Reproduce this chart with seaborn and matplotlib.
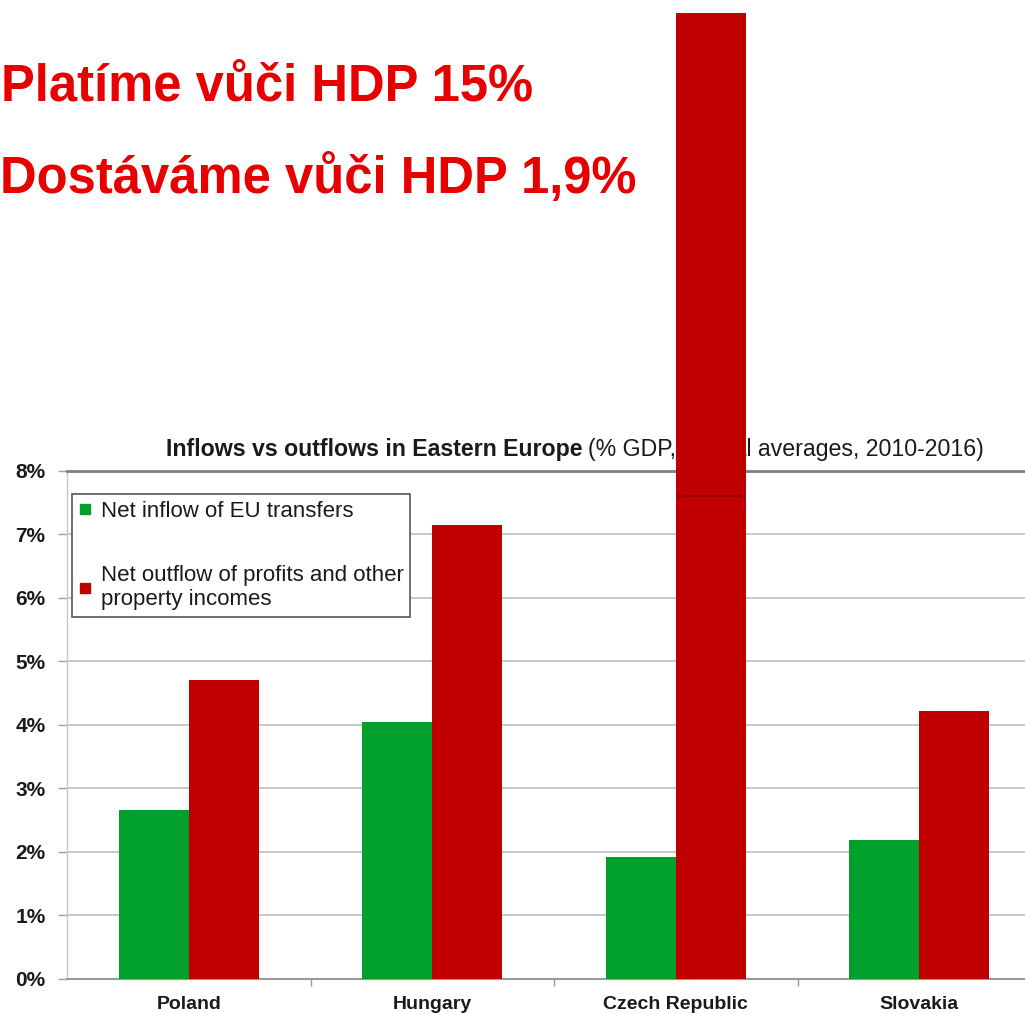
import numpy as np
import pandas as pd
import matplotlib
matplotlib.use("Agg")
import matplotlib.pyplot as plt
import seaborn as sns
from matplotlib.lines import Line2D

# ---------------- data ----------------
countries = ["Poland", "Hungary", "Czech Republic", "Slovakia"]
inflow_eu = [2.66, 4.04, 1.92, 2.19]
outflow_profits = [4.70, 7.15, 15.2, 4.21]
cz_outflow_original = 7.6
series_names = ["Net inflow of EU transfers",
                "Net outflow of profits and other\nproperty incomes"]
y_ticks = [0, 1, 2, 3, 4, 5, 6, 7, 8]
y_tick_labels = ["0%", "1%", "2%", "3%", "4%", "5%", "6%", "7%", "8%"]
headline_1 = "Platíme vůči HDP 15%"
headline_2 = "Dostáváme vůči HDP 1,9%"
title_bold = "Inflows vs outflows in Eastern Europe"
title_rest = "(% GDP, annual averages, 2010-2016)"

GREEN = "#00A02A"
RED = "#C00000"
HEAD_RED = "#E60000"

df = pd.DataFrame({
    "country": countries * 2,
    "series": [series_names[0]] * len(countries) + [series_names[1]] * len(countries),
    "value": inflow_eu + outflow_profits,
})

sns.set_style("white")
plt.rcParams["font.family"] = ["Liberation Sans", "DejaVu Sans"]

W, H = 1025, 1014
fig = plt.figure(figsize=(W / 100, H / 100), dpi=100)
ax = fig.add_axes([67 / W, 35 / H, 974 / W, 508.5 / H])

sns.barplot(data=df, x="country", y="value", hue="series",
            order=countries, hue_order=series_names,
            palette=[GREEN, RED], width=0.575, saturation=1,
            errorbar=None, legend=False, linewidth=0, ax=ax)

ax.set_xlim(-0.5, 3.5)
ax.set_ylim(0, 8)
for p in ax.patches:
    p.set_zorder(3)

# Czech outflow bar extends beyond the axes
cz_bar = ax.containers[1][2]
cz_bar.set_clip_on(False)
cz_bar.set_zorder(5)
x0 = cz_bar.get_x()
w = cz_bar.get_width()
ax.plot([x0, x0 + w], [cz_outflow_original, cz_outflow_original],
        color="#8a0000", lw=1.2, zorder=6, solid_capstyle="butt")

# axes styling
ax.set_xlabel("")
ax.set_ylabel("")
ax.set_yticks(y_ticks)
ax.set_yticklabels(y_tick_labels, fontweight="bold", fontsize=15, color="#1a1a1a")
ax.tick_params(axis="y", left=True, length=6.5, width=1, color="#a0a0a0", pad=9)
ax.set_xticks(range(len(countries)))
ax.set_xticklabels(countries, fontweight="bold", fontsize=14, color="#1a1a1a")
ax.tick_params(axis="x", which="major", bottom=False, length=0, pad=12)
ax.set_xticks([0.5, 1.5, 2.5], minor=True)
ax.tick_params(axis="x", which="minor", bottom=True, length=5, width=1, color="#999999")

ax.yaxis.grid(True, color="#c4c4c4", lw=1.3)
ax.xaxis.grid(False)
ax.set_axisbelow(True)
ax.spines["top"].set_color("#7f7f7f")
ax.spines["top"].set_linewidth(2)
ax.spines["left"].set_color("#c8c8c8")
ax.spines["left"].set_linewidth(1)
ax.spines["bottom"].set_color("#9a9a9a")
ax.spines["bottom"].set_linewidth(1.5)
ax.spines["right"].set_visible(False)

# chart title (under the extended bar)
ax.text(582 / W, 1 - 456 / H, title_bold, transform=fig.transFigure,
        ha="right", va="baseline", fontsize=16.7, fontweight="bold",
        color="#1a1a1a", zorder=2, clip_on=False)
ax.text(588 / W, 1 - 456 / H, title_rest, transform=fig.transFigure,
        ha="left", va="baseline", fontsize=16.7, color="#1a1a1a",
        zorder=2, clip_on=False)

# legend
handles = [Line2D([], [], marker="s", ls="", markersize=6.5, color=GREEN),
           Line2D([], [], marker="s", ls="", markersize=6.5, color=RED)]
leg = ax.legend(handles, series_names, loc="upper left",
                bbox_to_anchor=(72 / W, 1 - 494 / H), bbox_transform=fig.transFigure,
                borderaxespad=0, frameon=True, fancybox=False, framealpha=1,
                edgecolor="#555555", fontsize=16, handlelength=0.6,
                handletextpad=0.4, labelspacing=1.95, borderpad=0.3)
leg.get_frame().set_linewidth(1.2)
leg.set_zorder(7)
for t in leg.get_texts():
    t.set_color("#1a1a1a")

# headlines
fig.text(1 / W, 1 - 100 / H, headline_1, fontsize=36.5, fontweight="bold",
         color=HEAD_RED, ha="left", va="baseline")
fig.text(0 / W, 1 - 193 / H, headline_2, fontsize=36.5, fontweight="bold",
         color=HEAD_RED, ha="left", va="baseline")

fig.savefig("out.png", dpi=100)
